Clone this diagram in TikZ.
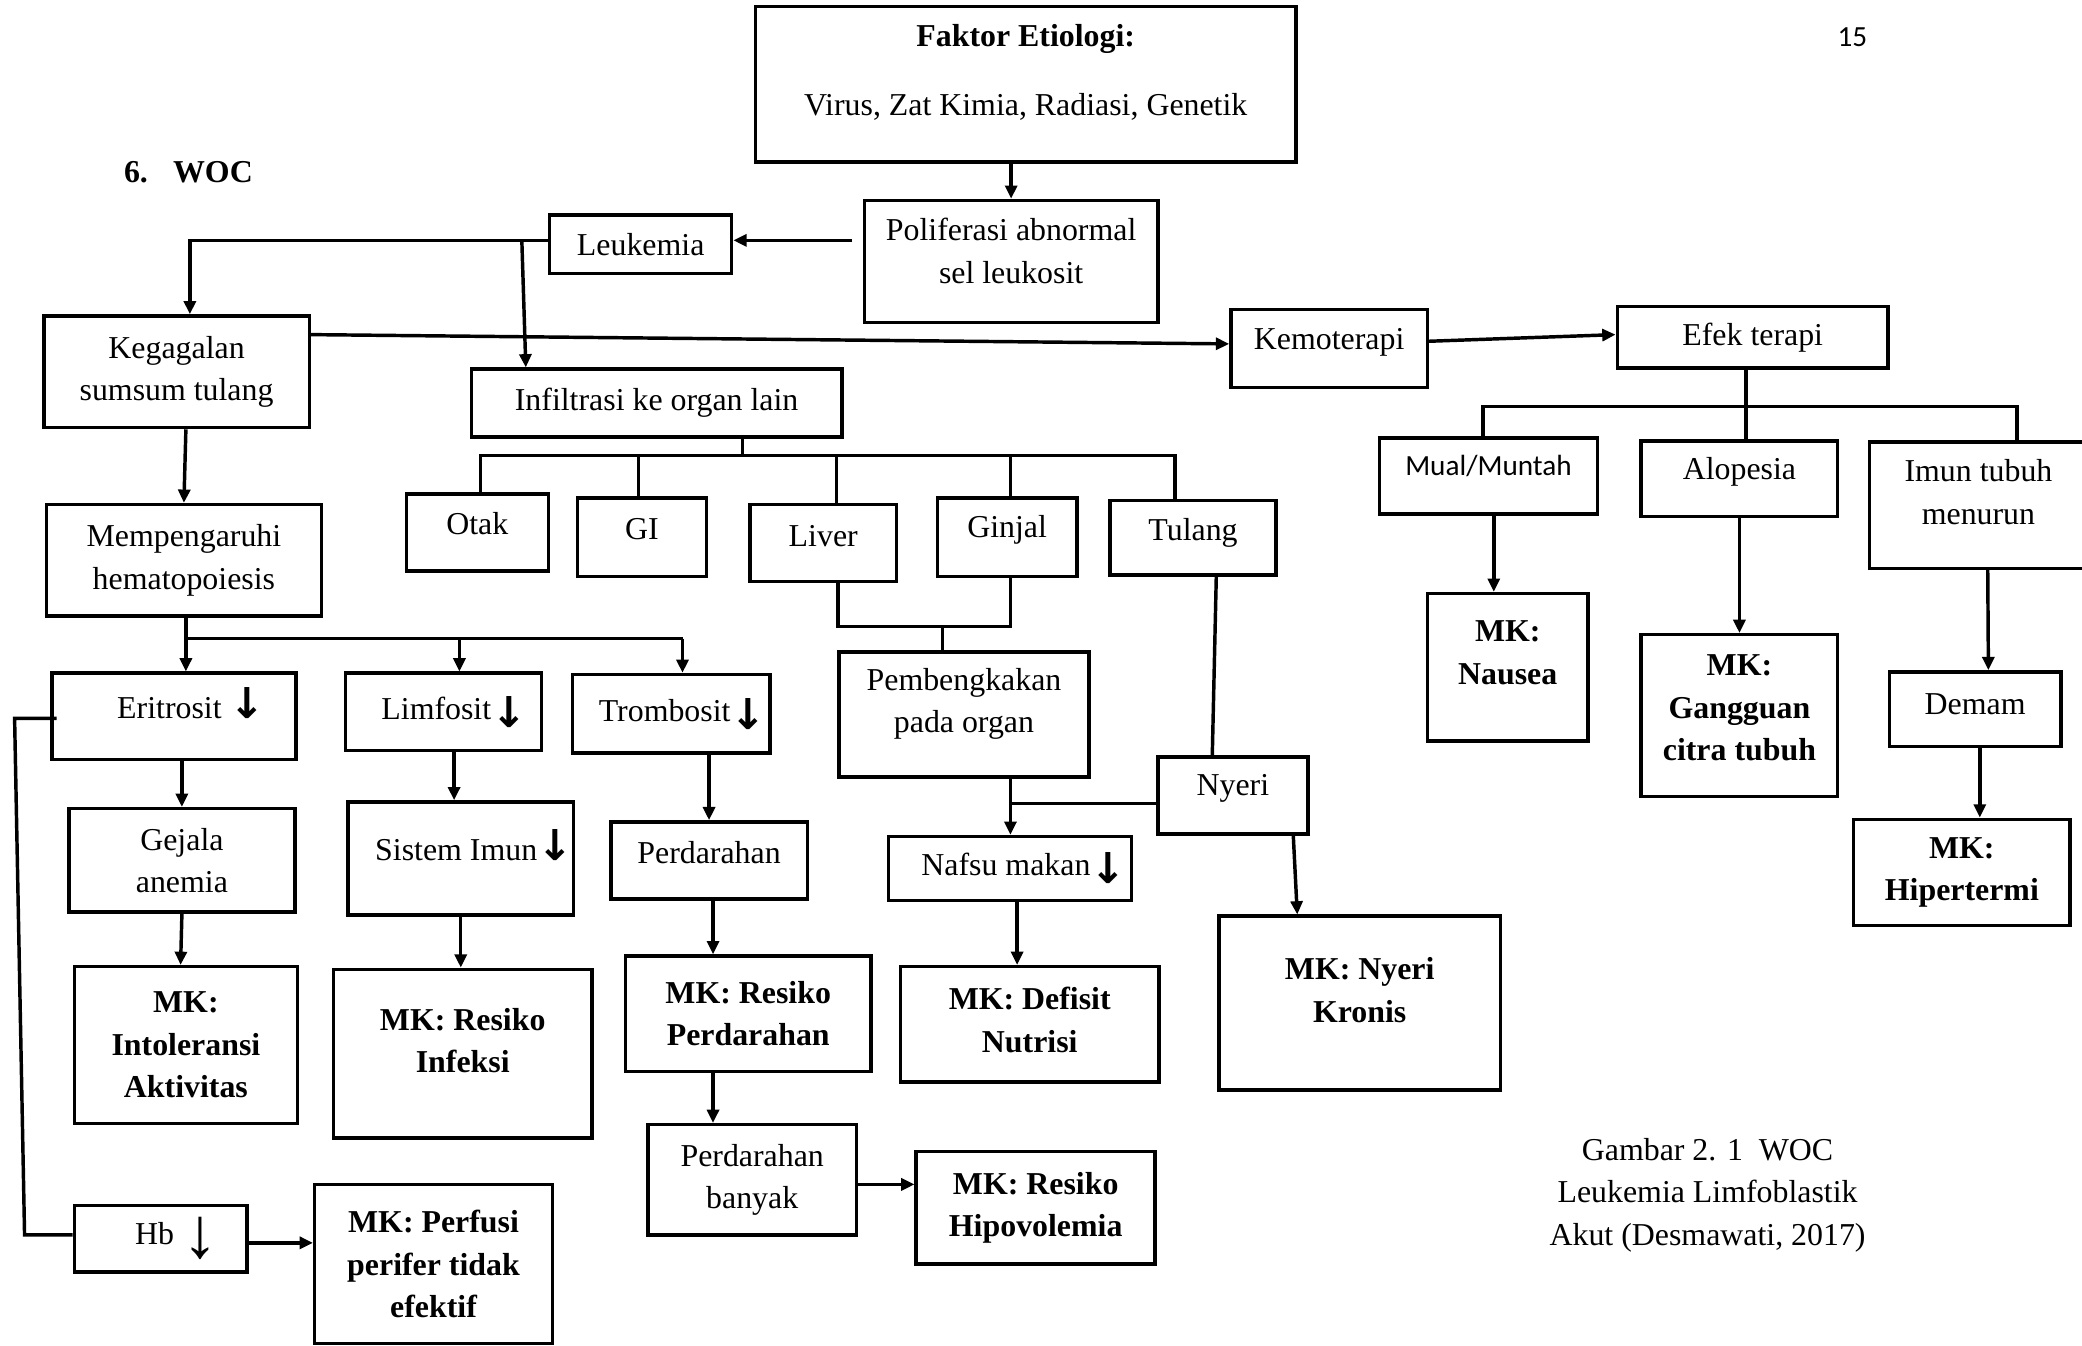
\documentclass[tikz,border=0pt]{standalone}
\usepackage{fontspec}
\setmainfont{Liberation Serif}
\newfontfamily\calibri{Carlito}
\newfontfamily\dejavu{DejaVu Sans}
\usetikzlibrary{arrows.meta}

\tikzset{
  kotak/.style={draw, line width=1.3pt, inner sep=0pt, align=center, font=\fontsize{12}{16}\selectfont},
  mk/.style={kotak, font=\fontsize{12}{16}\selectfont\bfseries},
  garis/.style={line width=1.3pt},
  panah/.style={line width=1.3pt, -{Triangle[length=5pt,width=4.5pt]}},
}

\begin{document}
\begin{tikzpicture}[x=0.5pt,y=-0.5pt]
\useasboundingbox (0,0) rectangle (1568,1013);
%Header
\node[font=\fontsize{12}{16}\selectfont\bfseries, anchor=west, inner sep=0pt] (judul) at (93,130) {6.\hspace{9.5pt}WOC};
\node[font=\calibri\fontsize{11}{13}\selectfont] (hal) at (1395,28) {15};
\node[kotak, minimum width=203.5pt, minimum height=58.5pt] (faktor) at (772.5,63.5) {\textbf{Faktor Etiologi:}\\[10pt]Virus, Zat Kimia, Radiasi, Genetik\rule[-11pt]{0pt}{11pt}};
\node[kotak, minimum width=110.5pt, minimum height=46pt] (poli) at (761.5,197) {Poliferasi abnormal\\sel leukosit\rule[-8pt]{0pt}{8pt}};
\node[kotak, minimum width=68.5pt, minimum height=22pt] (leuk) at (482.5,184) {Leukemia};
\node[kotak, minimum width=100pt, minimum height=42pt] (kega) at (133,280) {Kegagalan\\sumsum tulang};
\node[kotak, minimum width=139.5pt, minimum height=25.5pt] (infil) at (494.5,303.5) {Infiltrasi ke organ lain};
\node[kotak, minimum width=74pt, minimum height=29.5pt] (kemo) at (1001,262.5) {Kemoterapi\rule[-7pt]{0pt}{7pt}};
\node[kotak, minimum width=102pt, minimum height=23pt] (efek) at (1320,254) {Efek terapi};
%Efek terapi
\node[kotak, minimum width=82pt, minimum height=28.5pt, font=\calibri\fontsize{11}{14}\selectfont] (mual) at (1121,358.5) {Mual/Muntah\rule[-8pt]{0pt}{8pt}};
\node[kotak, minimum width=74pt, minimum height=28.5pt] (alop) at (1310,360.5) {Alopesia\rule[-8pt]{0pt}{8pt}};
\node[kotak, minimum width=82pt, minimum height=47.5pt] (imun) at (1490,380.5) {Imun tubuh\\menurun\rule[-10pt]{0pt}{10pt}};
\node[mk, minimum width=60.5pt, minimum height=55.5pt] (nause) at (1135.5,502.5) {MK:\\Nausea\rule[-11pt]{0pt}{11pt}};
\node[mk, minimum width=74pt, minimum height=61pt] (gangg) at (1310,539) {MK:\\Gangguan\\citra tubuh\rule[-6pt]{0pt}{6pt}};
\node[kotak, minimum width=64.5pt, minimum height=28pt] (demam) at (1487.5,534) {Demam\rule[-4pt]{0pt}{4pt}};
\node[mk, minimum width=81.5pt, minimum height=40pt] (hiper) at (1477.5,657) {MK:\\Hipertermi};
%Organ
\node[kotak, minimum width=53.5pt, minimum height=29pt] (otak) at (359.5,401) {Otak\rule[-7pt]{0pt}{7pt}};
\node[kotak, minimum width=48.5pt, minimum height=29.5pt] (gi) at (483.5,404.5) {GI\rule[-6.5pt]{0pt}{6.5pt}};
\node[kotak, minimum width=55pt, minimum height=29pt] (liver) at (620,409) {Liver\rule[-5pt]{0pt}{5pt}};
\node[kotak, minimum width=52.5pt, minimum height=29.5pt] (ginjal) at (758.5,404.5) {Ginjal\rule[-8pt]{0pt}{8pt}};
\node[kotak, minimum width=62.5pt, minimum height=28pt] (tulang) at (898.5,405) {Tulang\rule[-6.5pt]{0pt}{6.5pt}};
\node[kotak, minimum width=94pt, minimum height=47pt] (bengkak) at (726,538) {Pembengkakan\\pada organ\rule[-10.5pt]{0pt}{10.5pt}};
\node[kotak, minimum width=56.5pt, minimum height=29pt] (nyeri) at (928.5,599) {Nyeri\rule[-7.5pt]{0pt}{7.5pt}};
\node[kotak, minimum width=91.5pt, minimum height=24pt] (nafsu) at (760.5,654) {\hspace*{10.5pt}Nafsu makan\raisebox{-3pt}{\dejavu\bfseries\fontsize{16}{16}\selectfont ↓}};
\node[mk, minimum width=106pt, minimum height=65.5pt] (mknyeri) at (1024,755.5) {MK: Nyeri\\Kronis\rule[-10pt]{0pt}{10pt}};
\node[mk, minimum width=97.5pt, minimum height=43.5pt] (defisit) at (775.5,771.5) {MK: Defisit\\Nutrisi\rule[-3.5pt]{0pt}{3.5pt}};
%Sumsum
\node[kotak, minimum width=103.5pt, minimum height=42pt] (memp) at (138.5,422) {Mempengaruhi\\hematopoiesis};
\node[kotak, minimum width=92pt, minimum height=32.5pt] (eri) at (131,539.5) {\hspace*{13pt}Eritrosit {\dejavu\bfseries\fontsize{16}{16}\selectfont ↓}\rule[-10pt]{0pt}{10pt}};
\node[kotak, minimum width=74pt, minimum height=29pt] (limf) at (334,536) {\hspace*{8pt}Limfosit\raisebox{-3pt}{\dejavu\bfseries\fontsize{16}{16}\selectfont ↓}};
\node[kotak, minimum width=74.5pt, minimum height=29.5pt] (tromb) at (505.5,537.5) {\hspace*{8.5pt}Trombosit\raisebox{-3pt}{\dejavu\bfseries\fontsize{16}{16}\selectfont ↓}};
\node[kotak, minimum width=85pt, minimum height=39pt] (gejala) at (137,648) {Gejala\\anemia};
\node[kotak, minimum width=85pt, minimum height=42.5pt] (sistem) at (347,646.5) {\hspace*{10pt}Sistem Imun{\dejavu\bfseries\fontsize{16}{16}\selectfont ↓}\rule[-10pt]{0pt}{10pt}};
\node[kotak, minimum width=74pt, minimum height=29pt] (perd) at (534,648) {Perdarahan\rule[-6pt]{0pt}{6pt}};
\node[mk, minimum width=84pt, minimum height=59pt] (intol) at (140,787) {MK:\\Intoleransi\\Aktivitas};
\node[mk, minimum width=97.5pt, minimum height=63.5pt] (infeksi) at (348.5,793.5) {MK: Resiko\\Infeksi\rule[-10pt]{0pt}{10pt}};
\node[mk, minimum width=92.5pt, minimum height=43.5pt] (rperd) at (563.5,763.5) {MK: Resiko\\Perdarahan};
\node[kotak, minimum width=78.5pt, minimum height=41.5pt] (pbanyak) at (566.5,888.5) {Perdarahan\\banyak};
\node[mk, minimum width=90pt, minimum height=42.5pt] (hipov) at (780,909.5) {MK: Resiko\\Hipovolemia};
\node[kotak, minimum width=65pt, minimum height=25pt] (hb) at (121,933) {\hspace*{12pt}Hb\ \raisebox{-5pt}{\fontsize{27}{27}\selectfont ↓}};
\node[mk, minimum width=89.5pt, minimum height=60pt] (perfusi) at (326.5,952) {MK: Perfusi\\perifer tidak\\efektif};
%Keterangan
\node[align=center, font=\fontsize{12}{16}\selectfont] (ket) at (1286,900) {Gambar 2. 1\hspace{6pt}WOC\\Leukemia Limfoblastik\\Akut (Desmawati, 2017)};
%Garis
\coordinate (p1) at (642,181);
\coordinate (l1) at (393,181);
\coordinate (e1) at (1117,306);
\coordinate (e2) at (1519,306);
\coordinate (o1) at (362,343);
\coordinate (o2) at (885,343);
\coordinate (b1) at (710,472);
\coordinate (n1) at (761,605);
\coordinate (m1) at (140,481);
\coordinate (m2) at (514,481);
\coordinate (h1) at (11,541);
\coordinate (h2) at (18.5,930);
\draw[panah] (faktor.south -| poli.north) -- (poli.north);
\draw[panah] (p1) -- (leuk.east |- p1);
\draw[panah] (leuk.west |- p1) -| ([xshift=5pt]kega.north);
\draw[panah] (l1) -- ([xshift=-49.25pt]infil.north);
\draw[panah] ([yshift=14pt]kega.east) -- ([yshift=1.75pt]kemo.west);
\draw[panah] ([yshift=2.75pt]kemo.east) -- ([yshift=1pt]efek.west);
\draw[garis] ([xshift=-2.5pt]efek.south) -- ([xshift=-2.5pt]efek.south |- alop.north);
\draw[garis] (e1 |- mual.north) -- (e1) -- (e2) -- (e2 |- imun.north);
\draw[panah] ([xshift=2pt]mual.south) -- ([xshift=2pt]mual.south |- nause.north);
\draw[panah] (alop.south) -- (gangg.north);
\draw[panah] ([xshift=3.5pt]imun.south) -- ([xshift=5pt]demam.north);
\draw[panah] ([xshift=1.75pt]demam.south) -- ([xshift=1.75pt]demam.south |- hiper.north);
\draw[garis] ([xshift=32.25pt]infil.south) -- ([xshift=32.25pt]infil.south |- o1);
\draw[garis] (o1 |- otak.north) -- (o1) -- (o2) -- (o2 |- tulang.north);
\draw[garis] ([xshift=-1.25pt]gi.north) -- ([xshift=-1.25pt]gi.north |- o1);
\draw[garis] ([xshift=5pt]liver.north) -- ([xshift=5pt]liver.north |- o1);
\draw[garis] ([xshift=1.25pt]ginjal.north) -- ([xshift=1.25pt]ginjal.north |- o1);
\draw[garis] ([xshift=5.5pt]liver.south) |- (b1) -| ([xshift=1.25pt]ginjal.south);
\draw[garis] (b1) -- (b1 |- bengkak.north);
\draw[garis] ([xshift=8.75pt]tulang.south) -- ([xshift=-7.75pt]nyeri.north);
\draw[panah] ([xshift=17.5pt]bengkak.south) -- ([xshift=17.5pt]bengkak.south |- nafsu.north);
\draw[garis] ([yshift=-3pt]nyeri.west) -- (n1);
\draw[panah] ([xshift=22.75pt]nyeri.south) -- ([xshift=-23.5pt]mknyeri.north);
\draw[panah] ([xshift=2.75pt]nafsu.south) -- ([xshift=2.75pt]nafsu.south |- defisit.north);
\draw[panah] ([xshift=3.5pt]kega.south) -- (memp.north);
\draw[garis] (memp.south -| m1) -- (m1) -- (m2);
\draw[panah] (m1) -- (m1 |- eri.north);
\draw[panah] ([xshift=6pt]limf.north |- m1) -- ([xshift=6pt]limf.north);
\draw[panah] (m2) -- (m2 |- tromb.north);
\draw[panah] ([xshift=3pt]eri.south) -- (gejala.north);
\draw[panah] (gejala.south) -- ([xshift=-2pt]intol.north);
\draw[panah] ([xshift=4pt]limf.south) -- ([xshift=-2.5pt]sistem.north);
\draw[panah] (sistem.south) -- (sistem.south |- infeksi.north);
\draw[panah] ([xshift=14.25pt]tromb.south) -- (perd.north);
\draw[panah] ([xshift=1.5pt]perd.south) -- ([xshift=1.5pt]perd.south |- rperd.north);
\draw[panah] ([xshift=-13.25pt]rperd.south) -- ([xshift=-13.25pt]rperd.south |- pbanyak.north);
\draw[panah] ([yshift=-1.75pt]pbanyak.east) -- ([yshift=-1.75pt]pbanyak.east -| hipov.west);
\draw[garis] ([xshift=2.5pt,yshift=-0.75pt]eri.west) -- (h1) -- (h2) -- ([yshift=1.5pt]hb.west);
\draw[panah] ([yshift=-1.5pt]hb.east) -- ([yshift=-1.5pt]hb.east -| perfusi.west);
\end{tikzpicture}
\end{document}
